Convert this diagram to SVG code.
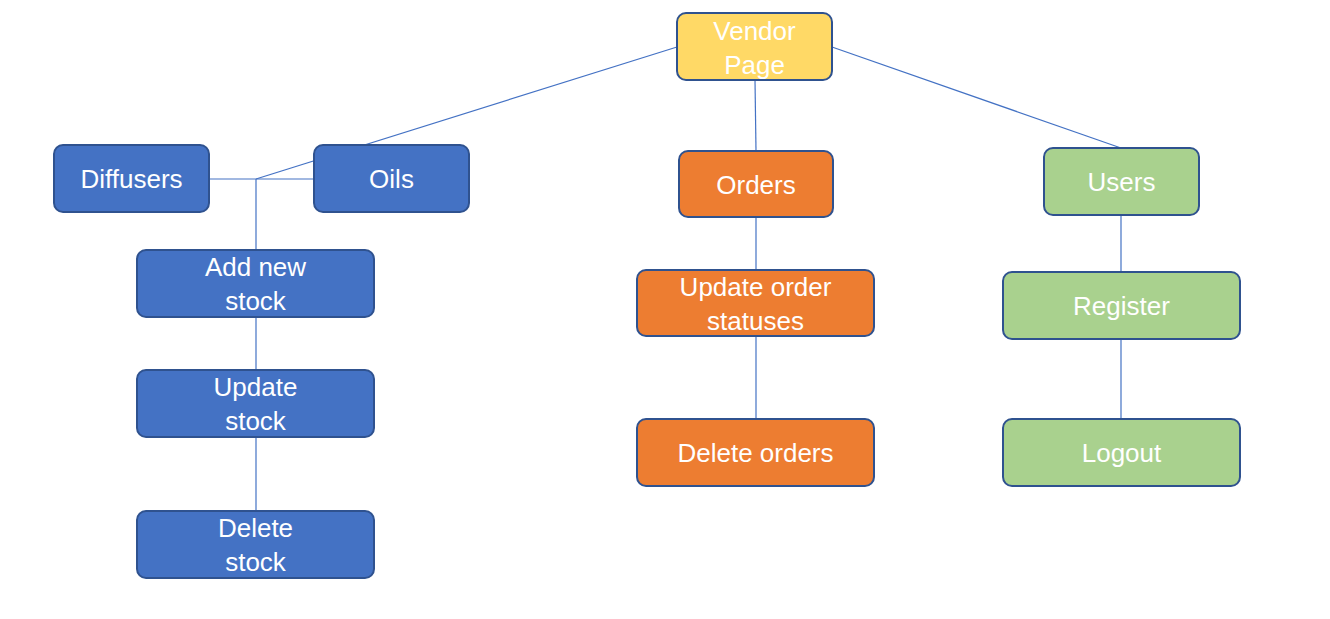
<svg xmlns="http://www.w3.org/2000/svg" width="1330" height="619" viewBox="0 0 1330 619">
<style>
.n rect{stroke:#2F528F;stroke-width:2}
.blue rect{fill:#4472C4}
.orange rect{fill:#ED7D31}
.yellow rect{fill:#FFD966}
.green rect{fill:#A9D18E}
text{font-family:"Liberation Sans",Arial,sans-serif;font-size:26px;fill:#fff;text-anchor:middle}
#connectors line{stroke:#4472C4;stroke-width:1.2}
</style>
<rect width="1330" height="619" fill="#fff"/>
<g id="connectors">
<line x1="677" y1="47" x2="256" y2="179"/>
<line x1="210" y1="179" x2="314" y2="179"/>
<line x1="256" y1="179" x2="256" y2="511"/>
<line x1="755" y1="80" x2="756" y2="151"/>
<line x1="756" y1="217" x2="756" y2="270"/>
<line x1="756" y1="336" x2="756" y2="419"/>
<line x1="832" y1="47" x2="1121" y2="148"/>
<line x1="1121" y1="215" x2="1121" y2="272"/>
<line x1="1121" y1="339" x2="1121" y2="419"/>
</g>
<g id="vendor" class="n yellow"><rect x="677" y="13" width="155" height="67" rx="9"/><text x="754.5" y="40">Vendor</text><text x="754.5" y="74">Page</text></g>
<g id="diffusers" class="n blue"><rect x="54" y="145" width="155" height="67" rx="9"/><text x="131.5" y="188">Diffusers</text></g>
<g id="oils" class="n blue"><rect x="314" y="145" width="155" height="67" rx="9"/><text x="391.5" y="188">Oils</text></g>
<g id="addstock" class="n blue"><rect x="137" y="250" width="237" height="67" rx="9"/><text x="255.5" y="276">Add new</text><text x="255.5" y="310">stock</text></g>
<g id="updatestock" class="n blue"><rect x="137" y="370" width="237" height="67" rx="9"/><text x="255.5" y="396">Update</text><text x="255.5" y="430">stock</text></g>
<g id="deletestock" class="n blue"><rect x="137" y="511" width="237" height="67" rx="9"/><text x="255.5" y="537">Delete</text><text x="255.5" y="571">stock</text></g>
<g id="orders" class="n orange"><rect x="679" y="151" width="154" height="66" rx="9"/><text x="756" y="194">Orders</text></g>
<g id="updateorders" class="n orange"><rect x="637" y="270" width="237" height="66" rx="9"/><text x="755.5" y="296">Update order</text><text x="755.5" y="330">statuses</text></g>
<g id="deleteorders" class="n orange"><rect x="637" y="419" width="237" height="67" rx="9"/><text x="755.5" y="462">Delete orders</text></g>
<g id="users" class="n green"><rect x="1044" y="148" width="155" height="67" rx="9"/><text x="1121.5" y="191">Users</text></g>
<g id="register" class="n green"><rect x="1003" y="272" width="237" height="67" rx="9"/><text x="1121.5" y="315">Register</text></g>
<g id="logout" class="n green"><rect x="1003" y="419" width="237" height="67" rx="9"/><text x="1121.5" y="462">Logout</text></g>
</svg>
